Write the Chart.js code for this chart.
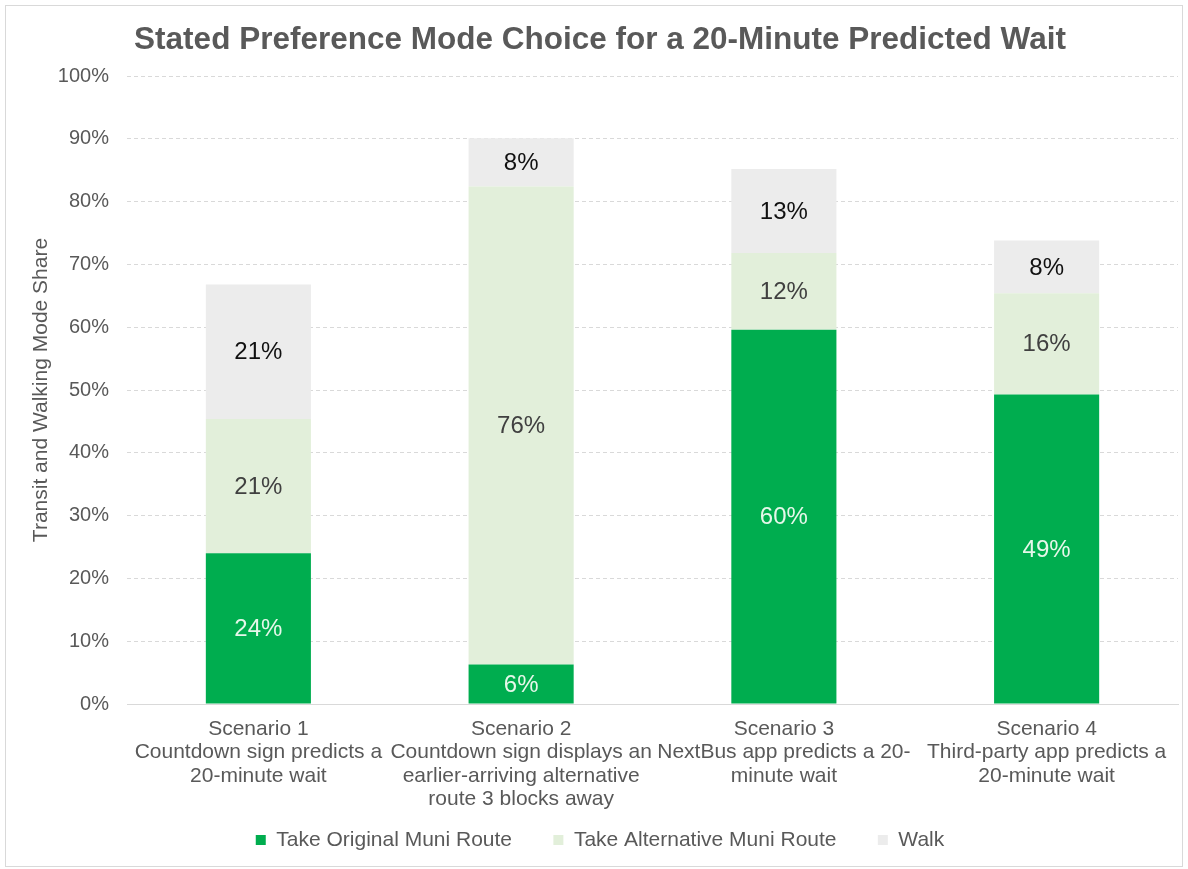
<!DOCTYPE html>
<html>
<head>
<meta charset="utf-8">
<script src="https://cdn.jsdelivr.net/npm/chart.js@4/dist/chart.umd.min.js"></script>
<style>
  html, body { margin: 0; padding: 0; background: #fff; }
  #wrap { width: 1188px; height: 869px; }
</style>
</head>
<body>
<div id="wrap"><canvas id="modeChart" width="1188" height="869"></canvas></div>
<script>
const scenarios = [
  ['Scenario 1', 'Countdown sign predicts a', '20-minute wait'],
  ['Scenario 2', 'Countdown sign displays an', 'earlier-arriving alternative', 'route 3 blocks away'],
  ['Scenario 3', 'NextBus app predicts a 20-', 'minute wait'],
  ['Scenario 4', 'Third-party app predicts a', '20-minute wait']
];
const originalRoute = [24.0, 6.3, 59.6, 49.3];
const alternativeRoute = [21.4, 76.1, 12.2, 16.1];
const walk = [21.4, 7.7, 13.4, 8.4];

const FONT = "'Liberation Sans', Arial, sans-serif";

// draws the % figure in the middle of each segment
const segmentLabels = {
  id: 'segmentLabels',
  afterDatasetsDraw(chart) {
    const ctx = chart.ctx;
    ctx.save();
    ctx.font = '24px ' + FONT;
    ctx.textAlign = 'center';
    ctx.textBaseline = 'middle';
    chart.data.datasets.forEach((ds, i) => {
      const meta = chart.getDatasetMeta(i);
      meta.data.forEach((bar, j) => {
        const v = ds.data[j];
        ctx.fillStyle = ds.labelColor;
        ctx.fillText(Math.round(v) + '%', bar.x, (bar.y + bar.base) / 2 + 1);
      });
    });
    ctx.restore();
  }
};

const frame = {
  id: 'frame',
  beforeDraw(chart) {
    const ctx = chart.ctx;
    ctx.save();
    ctx.fillStyle = '#fff';
    ctx.fillRect(0, 0, chart.width, chart.height);
    ctx.strokeStyle = '#d9d9d9';
    ctx.lineWidth = 1;
    ctx.strokeRect(5.5, 5.5, 1177, 861);
    ctx.restore();
  }
};

const ctx = document.getElementById('modeChart').getContext('2d');
const modeChart = new Chart(ctx, {
  type: 'bar',
  data: {
    labels: scenarios,
    datasets: [
      {
        label: 'Take Original Muni Route',
        data: originalRoute,
        backgroundColor: '#00ad4f',
        labelColor: '#e6f7ea'
      },
      {
        label: 'Take Alternative Muni Route',
        data: alternativeRoute,
        backgroundColor: '#e2efda',
        labelColor: '#404040'
      },
      {
        label: 'Walk',
        data: walk,
        backgroundColor: '#ececec',
        labelColor: '#111111'
      }
    ]
  },
  options: {
    responsive: false,
    animation: false,
    layout: { padding: { left: 22, right: 10, top: 0, bottom: 8.5 } },
    datasets: {
      bar: { barPercentage: 0.4, categoryPercentage: 1.0, borderWidth: 0 }
    },
    plugins: {
      tooltip: { enabled: false },
      title: {
        display: true,
        text: 'Stated Preference Mode Choice for a 20-Minute Predicted Wait',
        color: '#595959',
        font: { family: FONT, size: 31.5, weight: 'bold' },
        padding: { top: 21, bottom: 17.2 }
      },
      legend: {
        position: 'bottom',
        labels: {
          color: '#595959',
          font: { family: FONT, size: 21 },
          boxWidth: 10,
          boxHeight: 10,
          padding: 18,
          // wider gap between entries without growing the legend box
          generateLabels(chart) {
            const items = Chart.defaults.plugins.legend.labels.generateLabels(chart);
            items.forEach((it, i) => { if (i < items.length - 1) it.text += '    '; });
            return items;
          }
        }
      }
    },
    scales: {
      x: {
        stacked: true,
        grid: { display: false },
        border: { display: true, color: '#d9d9d9' },
        ticks: {
          color: '#595959',
          font: { family: FONT, size: 21, lineHeight: 1.1 },
          padding: 6,
          maxRotation: 0,
          autoSkip: false
        },
        afterFit(scale) { scale.height = 107.5; }
      },
      y: {
        stacked: true,
        min: 0,
        max: 100,
        border: { display: false, dash: [4, 3] },
        grid: {
          drawTicks: false,
          color: (c) => (c.tick && c.tick.value === 0 ? 'rgba(0,0,0,0)' : '#d9d9d9')
        },
        ticks: {
          stepSize: 10,
          padding: 18,
          color: '#595959',
          font: { family: FONT, size: 20 },
          callback: (v) => v + '%'
        },
        title: {
          display: true,
          text: 'Transit and Walking Mode Share',
          color: '#595959',
          font: { family: FONT, size: 21 },
          padding: { top: 7, bottom: 0 }
        },
        afterFit(scale) { scale.width = 105; }
      }
    }
  },
  plugins: [frame, segmentLabels]
});
</script>
</body>
</html>
